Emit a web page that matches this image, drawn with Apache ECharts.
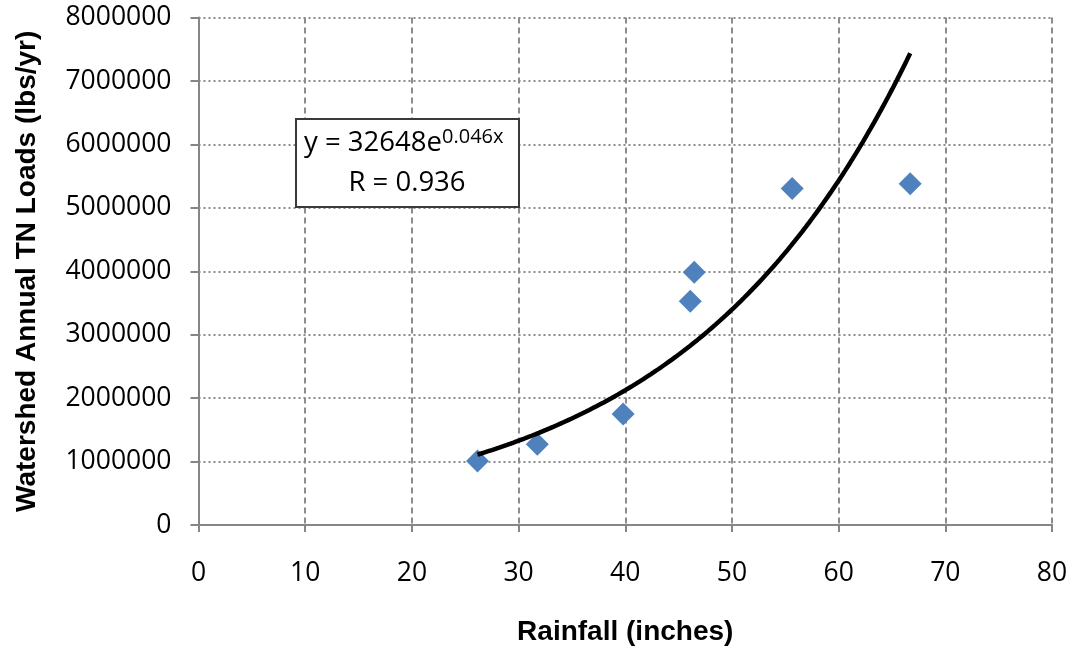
<!DOCTYPE html>
<html>
<head>
<meta charset="utf-8">
<script src="https://cdn.jsdelivr.net/npm/echarts@6/dist/echarts.min.js"></script>
<style>
  html, body { margin: 0; padding: 0; background: #fff; }
  #chart { width: 1071px; height: 653px; }
</style>
</head>
<body>
<div id="chart"></div>
<script>
// Annual rainfall (inches) against watershed total-nitrogen load (lbs/yr)
const rainfall = [26.15, 31.76, 39.8, 46.09, 46.47, 55.65, 66.71];
const tnLoads = [1010000, 1273000, 1751000, 3528000, 3986000, 5305000, 5379000];

const xTicks = { min: 0, max: 80, interval: 10 };
const yTicks = { min: 0, max: 8000000, interval: 1000000 };

const equationText = 'y = 32648e';
const exponentText = '0.046x';
const rText = 'R = 0.936';

// Exponential trendline: least-squares fit of ln(y) on x
function expFit(xs, ys) {
  const n = xs.length;
  const ly = ys.map(v => Math.log(v));
  const mx = xs.reduce((a, b) => a + b, 0) / n;
  const my = ly.reduce((a, b) => a + b, 0) / n;
  let sxy = 0, sxx = 0;
  for (let i = 0; i < n; i++) {
    sxy += (xs[i] - mx) * (ly[i] - my);
    sxx += (xs[i] - mx) * (xs[i] - mx);
  }
  const b = sxy / sxx;
  const a = Math.exp(my - b * mx);
  return { a, b };
}
const fit = expFit(rainfall, tnLoads);
const xLo = Math.min(...rainfall), xHi = Math.max(...rainfall);
const trend = [];
for (let i = 0; i <= 120; i++) {
  const x = xLo + (xHi - xLo) * i / 120;
  trend.push([x, fit.a * Math.exp(fit.b * x)]);
}

const chart = echarts.init(document.getElementById('chart'), null, { renderer: 'canvas' });
const tickFont = 'Open Sans';
const titleFont = 'Liberation Sans';

chart.setOption({
  animation: false,
  backgroundColor: '#ffffff',
  grid: { left: 198.5, right: 19, top: 17.6, bottom: 128, containLabel: false },
  xAxis: {
    type: 'value',
    min: xTicks.min, max: xTicks.max, interval: xTicks.interval,
    name: 'Rainfall (inches)',
    nameLocation: 'middle',
    nameGap: 93,
    nameTextStyle: { fontFamily: titleFont, fontWeight: 'bold', fontSize: 28, color: '#000' },
    axisLine: { show: true, onZero: false, lineStyle: { color: '#868686', width: 2 } },
    axisTick: { show: true, inside: false, length: 7, lineStyle: { color: '#868686', width: 2 } },
    axisLabel: { fontFamily: tickFont, fontSize: 26.5, color: '#000', margin: 35 },
    splitLine: { show: true, lineStyle: { color: '#8c8c8c', width: 2, type: [6, 4] } }
  },
  yAxis: {
    type: 'value',
    min: yTicks.min, max: yTicks.max, interval: yTicks.interval,
    name: 'Watershed Annual TN Loads (lbs/yr)',
    nameLocation: 'middle',
    nameGap: 157,
    nameTextStyle: { fontFamily: titleFont, fontWeight: 'bold', fontSize: 28, color: '#000' },
    axisLine: { show: true, onZero: false, lineStyle: { color: '#868686', width: 2 } },
    axisTick: { show: true, inside: false, length: 8, lineStyle: { color: '#868686', width: 2 } },
    axisLabel: { fontFamily: tickFont, fontSize: 26.5, color: '#000', margin: 27,
                 formatter: v => String(v) },
    splitLine: { show: true, lineStyle: { color: '#8c8c8c', width: 2, type: [2, 3] } }
  },
  series: [
    {
      name: 'TN load',
      type: 'scatter',
      data: rainfall.map((x, i) => [x, tnLoads[i]]),
      symbol: 'diamond',
      symbolSize: [23, 23],
      itemStyle: { color: '#4F81BD', opacity: 1 },
      z: 3
    },
    {
      name: 'Exponential trend',
      type: 'line',
      data: trend,
      showSymbol: false,
      smooth: false,
      lineStyle: { color: '#000', width: 4.5 },
      z: 4
    }
  ],
  graphic: [
    {
      type: 'rect',
      shape: { x: 296, y: 119, width: 223, height: 88 },
      style: { fill: '#fff', stroke: '#3a3a3a', lineWidth: 2 },
      z: 10
    },
    {
      type: 'text', x: 304, y: 143, z: 11,
      style: { text: equationText, fontFamily: tickFont, fontSize: 27.5, fill: '#000',
               align: 'left', verticalAlign: 'middle' }
    },
    {
      type: 'text', x: 442, y: 137, z: 11,
      style: { text: exponentText, fontFamily: tickFont, fontSize: 20, fill: '#000',
               align: 'left', verticalAlign: 'middle' }
    },
    {
      type: 'text', x: 407, y: 183, z: 11,
      style: { text: rText, fontFamily: tickFont, fontSize: 27.5, fill: '#000',
               align: 'center', verticalAlign: 'middle' }
    }
  ]
});
</script>
</body>
</html>
